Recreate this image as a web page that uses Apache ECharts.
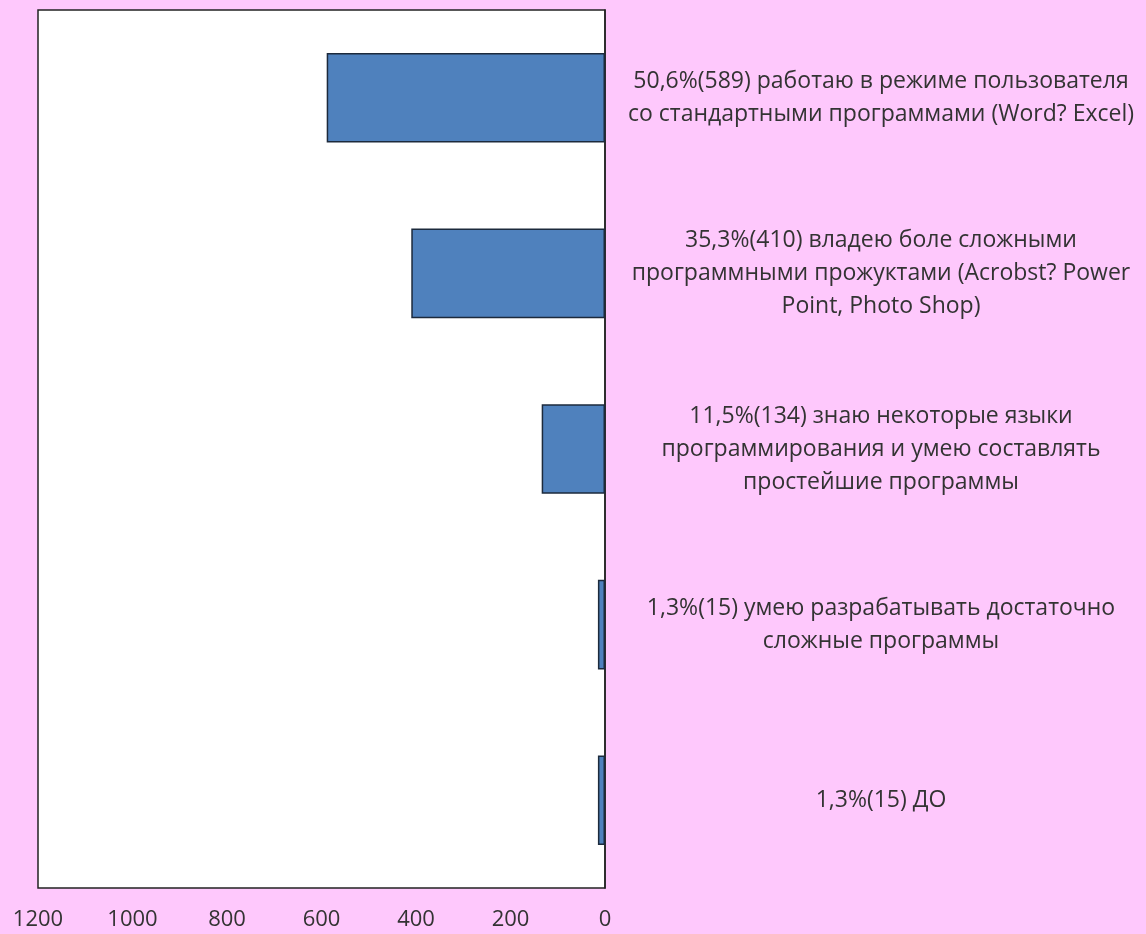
<!DOCTYPE html>
<html>
<head>
<meta charset="utf-8">
<script src="https://cdn.jsdelivr.net/npm/echarts@6/dist/echarts.min.js"></script>
<style>
html,body{margin:0;padding:0;background:#FEC8FC;}
#chart{width:1146px;height:934px;}
</style>
</head>
<body>
<div id="chart"></div>
<script>
const categories = [
  "50,6%(589) работаю в режиме пользователя\nсо стандартными программами (Word? Excel)",
  "35,3%(410) владею боле сложными\nпрограммными прожуктами (Acrobst? Power\nPoint, Photo Shop)",
  "11,5%(134) знаю некоторые языки\nпрограммирования и умею составлять\nпростейшие программы",
  "1,3%(15) умею разрабатывать достаточно\nсложные программы",
  "1,3%(15) ДО"
];
const values = [589, 410, 134, 15, 15];
const xTicks = { min: 0, max: 1200, interval: 200 };

const chart = echarts.init(document.getElementById('chart'), null, { renderer: 'canvas' });
chart.setOption({
  backgroundColor: '#FEC8FC',
  animation: false,
  grid: {
    left: 38, right: 541, top: 10, bottom: 46,
    show: true, backgroundColor: '#ffffff', borderColor: '#222222', borderWidth: 1.5
  },
  xAxis: {
    type: 'value', inverse: true,
    min: xTicks.min, max: xTicks.max, interval: xTicks.interval,
    splitLine: { show: false },
    axisLine: { show: false },
    axisTick: { show: false },
    axisLabel: { color: '#333333', fontFamily: 'Open Sans', fontSize: 22, margin: 21,
      formatter: function (v) { return String(v); } }
  },
  yAxis: {
    type: 'category', inverse: true, position: 'right',
    data: categories,
    axisLine: { show: true, lineStyle: { color: '#222222', width: 1.5 } },
    axisTick: { show: false },
    axisLabel: {
      color: '#333333', fontFamily: 'Open Sans', fontSize: 23, lineHeight: 33,
      align: 'center', margin: 276
    }
  },
  series: [{
    type: 'bar',
    data: values,
    barWidth: '51%',
    itemStyle: { color: '#4F81BD', borderColor: '#1c2a3c', borderWidth: 1.5 }
  }]
});
</script>
</body>
</html>
